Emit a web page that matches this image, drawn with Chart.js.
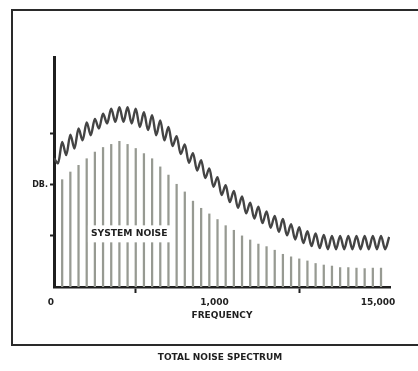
<!DOCTYPE html>
<html>
<head>
<meta charset="utf-8">
<style>
  html, body { margin: 0; padding: 0; background: #fff; overflow: hidden; }
  #wrap { width: 418px; height: 371px; }
</style>
</head>
<body>
<div id="wrap"><canvas id="noiseChart" width="418" height="371"></canvas></div>
<script src="https://cdn.jsdelivr.net/npm/chart.js@4/dist/chart.umd.min.js"></script>
<script>
// system noise lines, slot n sits at x = n (n = 1..40)
const systemNoise = [
  21.0, 22.5, 23.8, 25.1, 26.4, 27.3, 27.9, 28.5, 27.9, 27.1,
  26.1, 25.1, 23.5, 21.9, 20.1, 18.6, 16.8, 15.4, 14.3, 13.2,
  12.0, 11.1, 10.0, 9.2, 8.4, 7.9, 7.2, 6.4, 5.9, 5.5,
  5.1, 4.6, 4.3, 4.1, 3.8, 3.8, 3.7, 3.6, 3.7, 3.7
];

// total noise trace, one reading every half slot from the axis (x = i / 2)
const totalNoise = [
  25.2, 24.2, 28.4, 25.8, 29.8, 27.1, 31.0, 28.7, 32.2, 29.7,
  32.9, 31.0, 33.9, 32.0, 34.9, 32.3, 35.2, 32.3, 35.2, 32.0,
  34.9, 31.3, 34.2, 30.7, 33.6, 29.7, 32.6, 28.7, 31.3, 27.6,
  29.5, 26.0, 27.9, 24.3, 26.2, 22.8, 24.8, 21.3, 23.2, 19.6,
  21.5, 18.0, 19.9, 16.6, 18.8, 15.5, 17.7, 14.4, 16.5, 13.4,
  15.7, 12.5, 14.8, 11.6, 13.9, 10.8, 13.3, 10.1, 12.3, 9.3,
  11.7, 8.6, 10.9, 8.0, 10.5, 7.6, 10.2, 7.4, 10.0, 7.4,
  10.0, 7.4, 10.0, 7.4, 10.0, 7.4, 10.0, 7.4, 10.0, 7.4,
  10.0, 7.4, 9.8
];

const xTickValues = [0, 20, 40];
const xTickLabels = ["0", "1,000", "15,000"];
const yTickValues = [10, 20, 30];
const yTickLabels = ["", "DB.", ""];

const FONT = "'DejaVu Sans', sans-serif";
const INK = "#1f1f1f";

const paperPlugin = {
  id: "paper",
  beforeDraw(chart) {
    const { ctx } = chart;
    ctx.save();
    ctx.fillStyle = "#fff";
    ctx.fillRect(0, 0, chart.width, chart.height);
    // open frame: top, left and bottom edges (right edge runs off the page)
    ctx.strokeStyle = "#2a2a2a";
    ctx.lineWidth = 2;
    ctx.beginPath();
    ctx.moveTo(chart.width, 10);
    ctx.lineTo(12, 10);
    ctx.lineTo(12, 345);
    ctx.lineTo(chart.width, 345);
    ctx.stroke();
    ctx.restore();
  },
  afterDatasetsDraw(chart) {
    const { ctx, scales } = chart;
    const cx = scales.x.getPixelForValue(9.2);
    const cy = scales.y.getPixelForValue(10.4);
    ctx.save();
    ctx.font = "bold 9.2px " + FONT;
    const w = ctx.measureText("SYSTEM NOISE").width;
    ctx.fillStyle = "#fff";
    ctx.fillRect(cx - w / 2 - 3, cy - 8.5, w + 6, 17);
    ctx.fillStyle = INK;
    ctx.textAlign = "center";
    ctx.textBaseline = "middle";
    ctx.fillText("SYSTEM NOISE", cx, cy);
    ctx.restore();
  },
  afterDraw(chart) {
    const { ctx } = chart;
    ctx.save();
    ctx.font = "bold 9px " + FONT;
    ctx.fillStyle = INK;
    ctx.textAlign = "center";
    ctx.textBaseline = "middle";
    ctx.fillText("TOTAL NOISE SPECTRUM", 220, 358);
    ctx.restore();
  }
};

new Chart(document.getElementById("noiseChart").getContext("2d"), {
  data: {
    datasets: [
      {
        type: "line",
        data: totalNoise.map((v, i) => ({ x: i / 2, y: v })),
        borderColor: "#444444",
        borderWidth: 2.4,
        pointRadius: 0,
        cubicInterpolationMode: "monotone",
        order: 0
      },
      {
        type: "bar",
        data: systemNoise.map((v, i) => ({ x: i + 1, y: v })),
        backgroundColor: "#979a92",
        barThickness: 1.6,
        order: 1
      }
    ]
  },
  plugins: [paperPlugin],
  options: {
    responsive: false,
    animation: false,
    events: [],
    layout: { padding: { top: 57, right: 28, bottom: 50, left: 0 } },
    plugins: { legend: { display: false }, tooltip: { enabled: false } },
    scales: {
      x: {
        type: "linear",
        min: 0,
        max: 41.1,
        offset: false,
        afterBuildTicks: (scale) => { scale.ticks = xTickValues.map((value) => ({ value })); },
        afterFit: (scale) => { scale.height = 34; },
        border: { color: INK, width: 2.5 },
        grid: {
          drawOnChartArea: false,
          tickLength: 6,
          tickWidth: 2,
          color: (ctx) => (ctx.tick && ctx.tick.value === 0 ? "rgba(0,0,0,0)" : INK)
        },
        ticks: {
          autoSkip: false,
          maxRotation: 0,
          padding: 4,
          labelOffset: -3,
          color: INK,
          font: { family: FONT, size: 9, weight: "bold" },
          callback: (value, index) => xTickLabels[index]
        },
        title: {
          display: true,
          text: "FREQUENCY",
          color: INK,
          padding: { top: 0, bottom: 0 },
          font: { family: FONT, size: 9, weight: "bold" }
        }
      },
      y: {
        min: 0,
        max: 45,
        afterBuildTicks: (scale) => { scale.ticks = yTickValues.map((value) => ({ value })); },
        afterFit: (scale) => { scale.width = 54; },
        border: { color: INK, width: 3 },
        grid: { drawOnChartArea: false, tickLength: 4, tickWidth: 2, color: INK },
        ticks: {
          padding: 2,
          color: INK,
          font: { family: FONT, size: 8, weight: "bold" },
          callback: (value, index) => yTickLabels[index]
        }
      }
    }
  }
});
</script>
</body>
</html>
